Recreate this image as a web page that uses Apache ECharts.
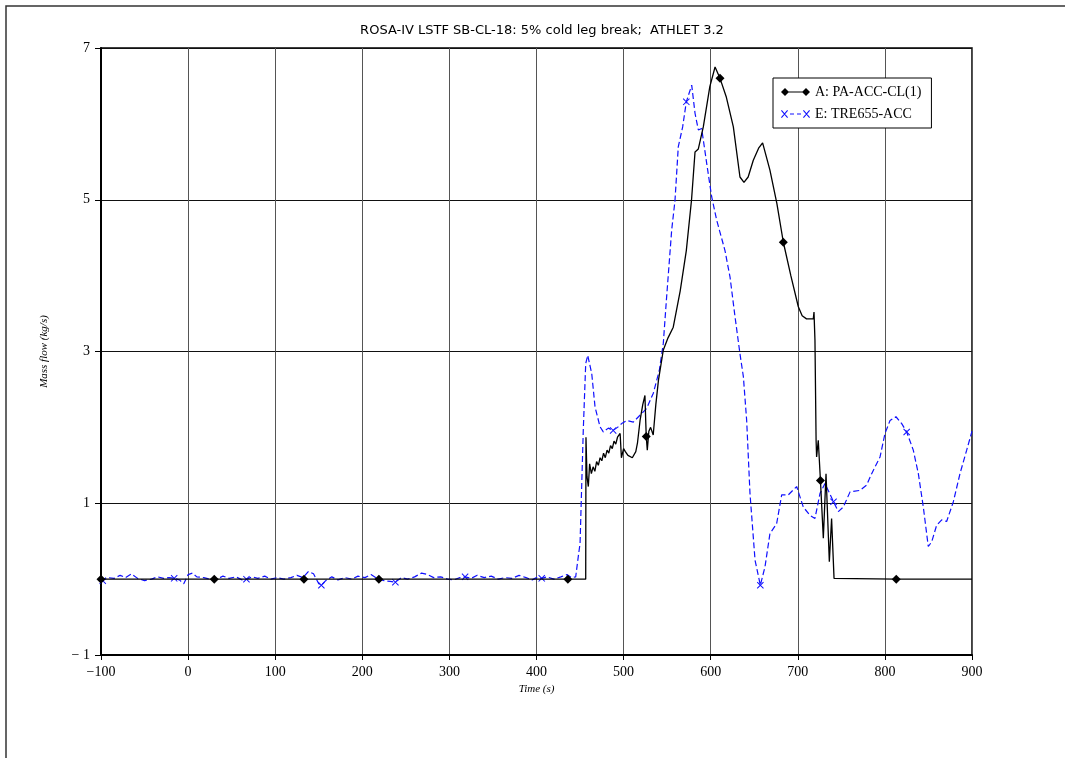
<!DOCTYPE html>
<html>
<head>
<meta charset="utf-8">
<script src="https://cdn.jsdelivr.net/npm/echarts@6/dist/echarts.min.js"></script>
<style>
  html, body { margin: 0; padding: 0; background: #fff; }
  #chart { width: 1065px; height: 758px; }
</style>
</head>
<body>
<div id="chart"></div>
<script>
/* ---------------------------------------------------------------- */
/*  ROSA-IV LSTF SB-CL-18 accumulator mass flow                     */
/* ---------------------------------------------------------------- */

const titleText = 'ROSA-IV LSTF SB-CL-18: 5% cold leg break;  ATHLET 3.2';
const nameA = 'A: PA-ACC-CL(1)';
const nameE = 'E: TRE655-ACC';

// A: measured (black, diamonds)
const aTime = [
  -100, 30, 133, 219, 436, 456.5, 456.8, 458, 459.5, 461, 463, 465, 467, 469,
  471, 473, 475, 477, 479, 481, 483, 485, 487, 489, 491, 493, 496, 497.5, 500,
  502, 505, 510, 514, 516, 519, 522, 524.5, 525.5, 526, 527.2, 529, 531, 534,
  537, 540, 545.6, 551, 557, 565, 572, 578, 582, 585.8, 591.5, 599, 605, 610.7,
  618, 626, 633.6, 638.2, 643, 648.9, 655, 659.6, 668, 676, 683.4, 692, 700.6,
  705, 710, 717.8, 718.6, 719.7, 721, 721.6, 723.5, 726, 729.3, 732.4, 736.2,
  738.8, 741.6, 813, 900,
];
const aFlow = [
  0, 0, 0, 0, 0, 0, 1.87, 1.35, 1.22, 1.52, 1.39, 1.48, 1.42, 1.55,
  1.5, 1.6, 1.56, 1.66, 1.6, 1.7, 1.66, 1.76, 1.72, 1.82, 1.78, 1.87, 1.92, 1.6, 1.72,
  1.68, 1.63, 1.6, 1.68, 1.8, 2.1, 2.3, 2.42, 2.05, 1.88, 1.7, 1.95, 2.0, 1.9,
  2.3, 2.62, 3.02, 3.18, 3.32, 3.8, 4.33, 5.0, 5.63, 5.67, 5.96, 6.49, 6.75, 6.6,
  6.35, 5.96, 5.3, 5.23, 5.3, 5.52, 5.68, 5.75, 5.39, 4.95, 4.44, 4.0, 3.59,
  3.47, 3.43, 3.43, 3.52, 3.15, 1.83, 1.61, 1.83, 1.3, 0.54, 1.39, 0.23,
  0.8, 0.01, 0, 0,
];
const aMarkers = [-100, 30, 133, 219, 436, 526, 610.7, 683.4, 726, 813];

// E: calculated (blue dashed, crosses)
const eTime = [
  -100, -98, -92, -85, -78, -72, -65, -58, -50, -42, -35, -28, -22, -16, -10,
  -5, 0, 5, 10, 18, 25, 32, 40, 47, 55, 62, 67, 74, 80, 88, 95, 102, 110, 118,
  125, 132, 138, 144, 150, 153, 158, 165, 172, 180, 188, 195, 203, 210, 217,
  225, 232, 238, 245, 252, 260, 268, 275, 282, 290, 298, 305, 312, 318, 325,
  332, 340, 348, 356, 364, 372, 380, 388, 395, 400, 406, 412, 420, 428, 435,
  440, 445, 448, 450, 453.7, 456.5, 458.8, 463.4, 467.2, 472.9, 476.7, 482.5,
  488, 493, 497.8, 503.6, 511.2, 518.8, 526.5, 534.1, 541, 545.6, 549.4, 555.2,
  559, 562.8, 567.8, 572, 578.2, 582, 585.8, 589.6, 595.4, 601.1, 606.9, 616.4,
  622.2, 627.9, 633.6, 637.5, 641.3, 645.1, 650.9, 657, 662.3, 668, 675.7, 681.5,
  689.1, 698.7, 706.3, 714, 719.7, 725.5, 731.2, 741, 746.5, 752.3, 760, 771.4,
  779.1, 784.8, 794.4, 800.1, 805.9, 812.7, 819.3, 825, 832.6, 838.4, 844.1,
  849.8, 853.7, 859.4, 865.2, 870.9, 878.6, 886.2, 893.9, 900,
];
const eFlow = [
  -0.03, -0.02, 0.02, 0.01, 0.05, 0.02, 0.07, 0.01, -0.02, 0.0, 0.03, 0.01, 0.02, 0.01, -0.01,
  -0.06, 0.06, 0.08, 0.03, 0.02, 0.0, -0.01, 0.04, 0.01, 0.03, -0.01, 0.0, 0.03, 0.01, 0.04, 0.0, 0.02, 0.0, 0.02,
  0.05, 0.02, 0.1, 0.07, -0.06, -0.08, -0.02, 0.03, -0.01, 0.02, 0.0, 0.04, 0.02, 0.06, 0.01,
  -0.02, -0.03, -0.04, 0.02, 0.0, 0.03, 0.08, 0.06, 0.02, 0.03, 0.0, -0.01, 0.02, 0.03, 0.01,
  0.05, 0.02, 0.04, 0.0, 0.02, 0.01, 0.05, 0.02, -0.01, 0.02, 0.01, 0.03, 0.0, 0.03, 0.06,
  0.02, 0.03, 0.3, 0.47, 1.96, 2.84, 2.95, 2.71, 2.27, 2.01, 1.94, 1.99,
  1.96, 2.0, 2.05, 2.09, 2.07, 2.16, 2.25, 2.45, 2.75, 3.11, 3.72, 4.6,
  4.99, 5.7, 5.96, 6.29, 6.51, 6.14, 5.92, 5.94, 5.48, 5.04, 4.73, 4.33,
  3.98, 3.46, 2.97, 2.67, 2.09, 1.13, 0.25, -0.08, 0.16, 0.6, 0.73, 1.11,
  1.11, 1.22, 0.95, 0.84, 0.8, 1.13, 1.26, 1.02, 0.89, 0.95, 1.15, 1.17,
  1.24, 1.39, 1.61, 1.92, 2.09, 2.14, 2.05, 1.94, 1.7, 1.39, 0.95,
  0.43, 0.49, 0.71, 0.78, 0.76, 1.02, 1.39, 1.7, 1.95,
];
const eMarkers = [-98, -16, 67, 153, 238, 318, 406, 488, 572, 657, 741, 825];

const xTicks = { min: -100, max: 900, step: 100 };
const yTicks = { min: -1, max: 7, step: 2 };

const crossPath =
  'path://M0 0.8 L0.8 0 L8 7.2 L7.2 8 Z M0 7.2 L7.2 0 L8 0.8 L0.8 8 Z';
const legendA =
  'path://M0 4 L4 0 L8 4 L4 8 Z M21 4 L25 0 L29 4 L25 8 Z M4 3.4 L25 3.4 L25 4.6 L4 4.6 Z';
const legendE =
  'path://M0 0.8 L0.8 0 L7 7.2 L6.2 8 Z M0 7.2 L6.2 0 L7 0.8 L0.8 8 Z ' +
  'M22 0.8 L22.8 0 L29 7.2 L28.2 8 Z M22 7.2 L28.2 0 L29 0.8 L22.8 8 Z ' +
  'M9 3.5 L13 3.5 L13 4.5 L9 4.5 Z M16 3.5 L20 3.5 L20 4.5 L16 4.5 Z';

const toPoints = (times, values, marks) =>
  times.map((t, i) =>
    marks.includes(t)
      ? { value: [t, values[i]] }
      : { value: [t, values[i]], symbol: 'none' }
  );

const minus = (v) => String(v).replace('-', '\u2212');

const chart = echarts.init(document.getElementById('chart'), null, {
  renderer: 'canvas',
});

const serif = '"Liberation Serif", "DejaVu Serif", serif';

chart.setOption({
  animation: false,
  backgroundColor: '#fff',
  title: {
    text: titleText,
    left: 537,
    textAlign: 'center',
    top: 19,
    textStyle: {
      fontFamily: '"DejaVu Sans", sans-serif',
      fontSize: 13,
      fontWeight: 'normal',
      color: '#000',
    },
  },
  graphic: [
    {
      type: 'polyline',
      shape: { points: [[6, 758], [6, 6], [1065, 6]] },
      style: { stroke: '#333', lineWidth: 1.5, fill: null },
    },
  ],
  legend: {
    orient: 'vertical',
    left: 773,
    top: 78,
    padding: [7, 10, 7, 8],
    itemWidth: 29,
    itemHeight: 8,
    itemGap: 8,
    backgroundColor: '#fff',
    borderColor: '#000',
    borderWidth: 1,
    itemStyle: { borderWidth: 0 },
    textStyle: { fontFamily: serif, fontSize: 14, color: '#000' },
    data: [
      { name: nameA, icon: legendA },
      { name: nameE, icon: legendE },
    ],
  },
  grid: {
    left: 101,
    right: 93,
    top: 48,
    bottom: 103,
    show: true,
    borderColor: '#000',
    borderWidth: 1.5,
  },
  xAxis: {
    type: 'value',
    min: xTicks.min,
    max: xTicks.max,
    interval: xTicks.step,
    name: 'Time (s)',
    nameLocation: 'middle',
    nameGap: 29,
    nameTextStyle: {
      fontFamily: serif,
      fontStyle: 'italic',
      fontSize: 11,
      color: '#000',
    },
    axisLine: { onZero: false, lineStyle: { color: '#000', width: 2 } },
    axisTick: { length: 5, lineStyle: { color: '#000' } },
    axisLabel: {
      margin: 10,
      fontFamily: serif,
      fontSize: 14,
      color: '#000',
      formatter: minus,
    },
    splitLine: { lineStyle: { color: '#555', width: 1 } },
  },
  yAxis: {
    type: 'value',
    min: yTicks.min,
    max: yTicks.max,
    interval: yTicks.step,
    name: 'Mass flow (kg/s)',
    nameLocation: 'middle',
    nameGap: 51,
    nameTextStyle: {
      fontFamily: serif,
      fontStyle: 'italic',
      fontSize: 11,
      color: '#000',
    },
    axisLine: { onZero: false, lineStyle: { color: '#000', width: 2 } },
    axisTick: { length: 6, lineStyle: { color: '#000' } },
    axisLabel: {
      margin: 11,
      fontFamily: serif,
      fontSize: 14,
      color: '#000',
      formatter: (v) => minus(v).replace('\u2212', '\u2212 '),
    },
    splitLine: { lineStyle: { color: '#111', width: 1 } },
  },
  series: [
    {
      name: nameA,
      type: 'line',
      data: toPoints(aTime, aFlow, aMarkers),
      symbol: 'diamond',
      symbolSize: 9,
      showSymbol: true,
      showAllSymbol: true,
      clip: false,
      z: 3,
      itemStyle: { color: '#000' },
      lineStyle: { color: '#000', width: 1.3 },
    },
    {
      name: nameE,
      type: 'line',
      data: toPoints(eTime, eFlow, eMarkers),
      symbol: crossPath,
      symbolSize: 7,
      showSymbol: true,
      showAllSymbol: true,
      clip: false,
      z: 2,
      itemStyle: { color: '#1010ff' },
      lineStyle: { color: '#1010ff', width: 1.2, type: [6, 3] },
    },
  ],
});
</script>
</body>
</html>
